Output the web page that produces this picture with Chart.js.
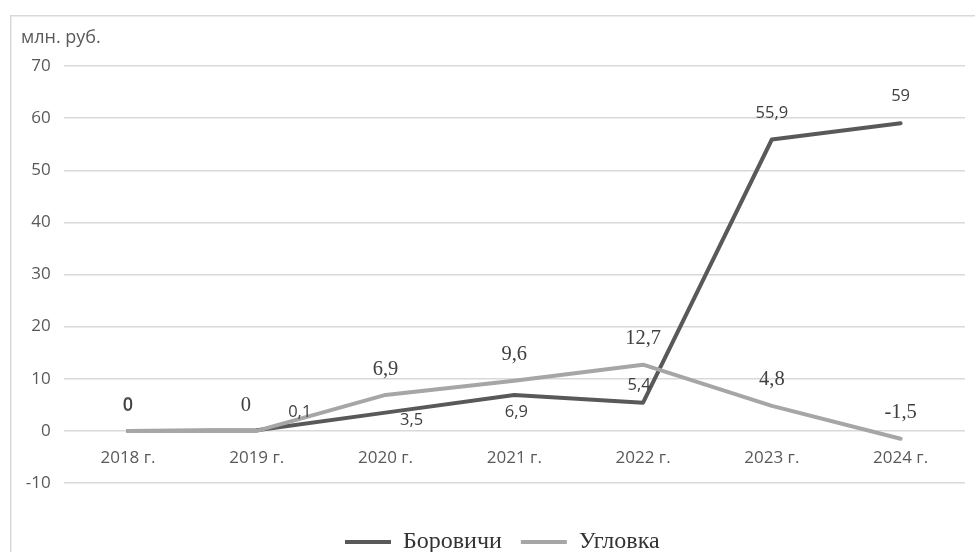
<!DOCTYPE html>
<html lang="ru">
<head>
<meta charset="utf-8">
<title>Боровичи и Угловка, млн. руб.</title>
<script src="https://cdn.jsdelivr.net/npm/chart.js@4.4.1/dist/chart.umd.min.js"></script>
<style>
  html, body { margin: 0; padding: 0; background: #ffffff; }
  #wrap { width: 975px; height: 552px; position: relative; }
</style>
</head>
<body>
<div id="wrap"><canvas id="chart" width="975" height="552"></canvas></div>
<script>
// Years on the category axis
const years = ['2018 г.', '2019 г.', '2020 г.', '2021 г.', '2022 г.', '2023 г.', '2024 г.'];

// Values, млн. руб.
const borovichi = [0, 0.1, 3.5, 6.9, 5.4, 55.9, 59];
const uglovka = [0, 0, 6.9, 9.6, 12.7, 4.8, -1.5];

// Series names
const seriesNames = ['Боровичи', 'Угловка'];

// Value axis range
const yMin = -10;
const yMax = 70;
const yStep = 10;

const unitLabel = 'млн. руб.';

// Where each value label sits relative to its point (dx, dy in px)
const labelPlacement = [
  [[0, -26], [43, -18], [26, 8], [2, 17], [-4, -17], [0, -26], [0, -27]],
  [[0, -25], [-11, -25], [0, -25], [0, -26], [0, -26], [0, -26], [0, -26]]
];
const labelFonts = ['16.5px "Open Sans"', '20.5px "Liberation Serif"'];

const fmt = v => String(v).replace('.', ',');

// Frame, unit caption and value labels
const decorations = {
  id: 'decorations',
  afterLayout(chart) {
    // nudge the legend row slightly left
    if (chart.legend) {
      chart.legend.left -= 12;
      chart.legend.right -= 12;
    }
  },
  beforeDraw(chart) {
    const ctx = chart.ctx;
    ctx.save();
    ctx.fillStyle = '#ffffff';
    ctx.fillRect(0, 0, chart.width, chart.height);
    ctx.strokeStyle = '#d9d9d9';
    ctx.lineWidth = 1.5;
    ctx.beginPath();
    ctx.moveTo(10.75, chart.height);
    ctx.lineTo(10.75, 15.75);
    ctx.lineTo(chart.width, 15.75);
    ctx.stroke();
    ctx.fillStyle = '#595959';
    ctx.font = '18px "Open Sans"';
    ctx.textAlign = 'left';
    ctx.textBaseline = 'middle';
    ctx.fillText(unitLabel, 21, 38);
    ctx.restore();
  },
  afterDatasetsDraw(chart) {
    const ctx = chart.ctx;
    ctx.save();
    ctx.fillStyle = '#404040';
    ctx.textAlign = 'center';
    ctx.textBaseline = 'middle';
    chart.data.datasets.forEach((ds, di) => {
      const meta = chart.getDatasetMeta(di);
      ctx.font = labelFonts[di];
      meta.data.forEach((pt, i) => {
        const [dx, dy] = labelPlacement[di][i];
        ctx.fillText(fmt(ds.data[i]), pt.x + dx, pt.y + dy);
      });
    });
    ctx.restore();
  }
};

new Chart(document.getElementById('chart'), {
  type: 'line',
  data: {
    labels: years,
    datasets: [
      {
        label: seriesNames[0],
        data: borovichi,
        borderColor: '#595959',
        backgroundColor: '#595959',
        borderWidth: 4,
        pointRadius: 0,
        borderCapStyle: 'round',
        borderJoinStyle: 'round',
        tension: 0,
        order: 1
      },
      {
        label: seriesNames[1],
        data: uglovka,
        borderColor: '#a6a6a6',
        backgroundColor: '#a6a6a6',
        borderWidth: 4,
        pointRadius: 0,
        borderCapStyle: 'round',
        borderJoinStyle: 'round',
        tension: 0,
        order: 0
      }
    ]
  },
  options: {
    responsive: false,
    animation: false,
    layout: { padding: { left: 10, right: 10, top: 66, bottom: 0 } },
    plugins: {
      tooltip: { enabled: false },
      legend: {
        position: 'bottom',
        fullSize: false,
        maxHeight: 41,
        labels: {
          usePointStyle: true,
          pointStyle: 'line',
          pointStyleWidth: 46,
          padding: 19,
          color: '#333333',
          font: { family: '"Liberation Serif"', size: 24 },
          sort: (a, b) => a.datasetIndex - b.datasetIndex
        }
      }
    },
    scales: {
      x: {
        type: 'category',
        offset: true,
        position: { y: 0 },
        grid: { display: false, drawTicks: false },
        border: { display: false },
        ticks: {
          color: '#595959',
          font: { family: '"Open Sans"', size: 17 },
          padding: 17,
          maxRotation: 0,
          autoSkip: false
        }
      },
      xSpace: {
        type: 'category',
        position: 'bottom',
        offset: true,
        grid: { display: false, drawTicks: false },
        border: { display: false },
        ticks: { display: false },
        afterFit(scale) { scale.height = 28; }
      },
      y: {
        min: yMin,
        max: yMax,
        grid: { color: '#d9d9d9', lineWidth: 1.5, drawTicks: false },
        border: { display: false },
        ticks: {
          stepSize: yStep,
          color: '#595959',
          font: { family: '"Open Sans"', size: 17 },
          padding: 13
        },
        afterFit(scale) { scale.width = 53.6; }
      }
    }
  },
  plugins: [decorations]
});
</script>
</body>
</html>
